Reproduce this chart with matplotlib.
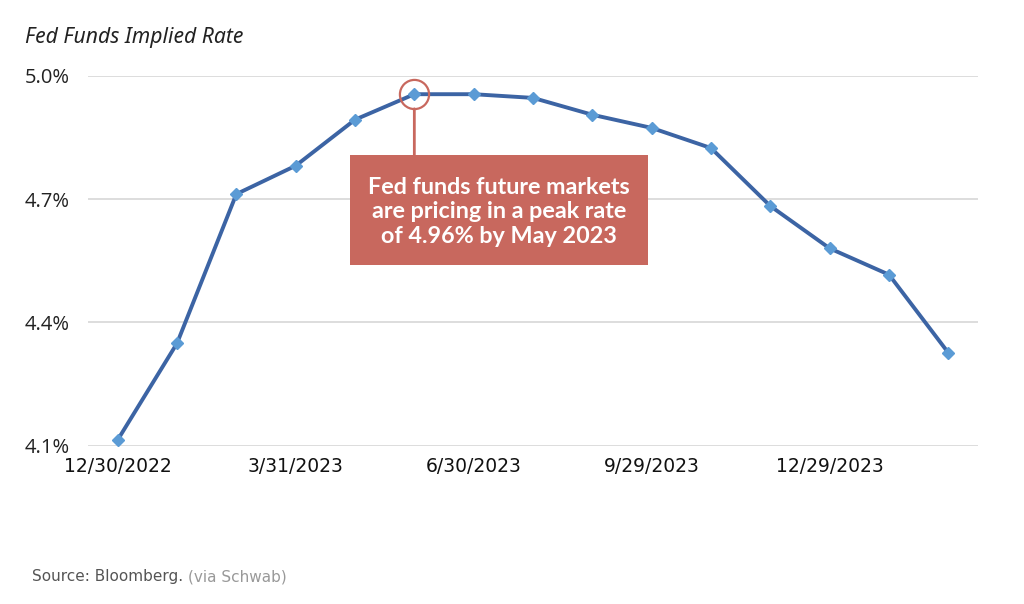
import matplotlib
matplotlib.use("Agg")
import matplotlib.pyplot as plt
from matplotlib.patches import Rectangle

dates = ["12/30/2022", "1/31/2023", "2/28/2023", "3/31/2023", "4/28/2023",
         "5/31/2023", "6/30/2023", "7/31/2023", "8/31/2023", "9/29/2023",
         "10/31/2023", "11/30/2023", "12/29/2023", "1/31/2024", "2/29/2024"]
rates = [4.114, 4.349, 4.712, 4.781, 4.893, 4.955, 4.955, 4.946, 4.905,
         4.873, 4.824, 4.683, 4.580, 4.516, 4.326]
y_ticks = [4.1, 4.4, 4.7, 5.0]
y_tick_labels = ["4.1%", "4.4%", "4.7%", "5.0%"]
peak_index = 5
annotation_text = "Fed funds future markets\nare pricing in a peak rate\nof 4.96% by May 2023"

line_color = "#3C64A4"
marker_color = "#5B9BD5"
red = "#C8685E"
narrow = ["DejaVu Sans"]

fig = plt.figure(figsize=(10.24, 6.04), dpi=100)
ax = fig.add_axes([88/1024, 1-445.7/604, 890/1024, 370/604])

x = list(range(len(dates)))
ax.plot(x, rates, color=line_color, lw=2.8, marker="D", markersize=6.5,
        markerfacecolor=marker_color, markeredgecolor=marker_color, zorder=3)

ax.set_xlim(-0.5, len(dates) - 0.5)
ax.set_ylim(4.1, 5.0)
ax.set_yticks(y_ticks)
ax.set_yticklabels(y_tick_labels, family=["Open Sans", "DejaVu Sans"], fontsize=14.5, color="#222222")
ax.set_xticks(x[::3])
ax.set_xticklabels(dates[::3], family=narrow, fontsize=13.5, color="#111111")
ax.tick_params(axis="both", length=0)
ax.tick_params(axis="y", pad=13)
ax.tick_params(axis="x", pad=8)
ax.grid(axis="y", color="#DADADA", lw=1.3)
ax.set_axisbelow(True)
for s in ax.spines.values():
    s.set_visible(False)

# peak circle
ax.plot([peak_index], [rates[peak_index]], marker="o", markersize=21,
        markerfacecolor="none", markeredgecolor=red, markeredgewidth=1.6, zorder=4)

# annotation box
box_left, box_right = (350-88)/890, (648-88)/890
box_bottom, box_top = (445.7-265)/370, (445.7-155)/370
ax.add_patch(Rectangle((box_left, box_bottom), box_right-box_left, box_top-box_bottom,
                       transform=ax.transAxes, facecolor=red, edgecolor="none", zorder=5))
ax.text((box_left+box_right)/2, (box_bottom+box_top)/2 - 0.005, annotation_text,
        transform=ax.transAxes, ha="center", va="center", color="white",
        family=["Lato", "DejaVu Sans"], fontweight="bold", fontsize=16.8,
        linespacing=1.2, zorder=6)
ax.annotate("", xy=(peak_index, rates[peak_index]), xytext=(peak_index, box_top),
            textcoords=("data", "axes fraction"),
            arrowprops=dict(arrowstyle="-", color=red, lw=2, shrinkA=0, shrinkB=10.5),
            zorder=4)

fig.text(25/1024, 1-38/604, "Fed Funds Implied Rate", ha="left", va="center",
         family=["Noto Sans", "DejaVu Sans"], style="italic", fontsize=15.2, color="#222222")
t = fig.text(32/1024, 1-577/604, "Source: Bloomberg. ", ha="left", va="center",
             family=narrow, fontsize=11, color="#555555")
fig.canvas.draw()
bb = t.get_window_extent()
fig.text(bb.x1/1024, 1-577/604, "(via Schwab)", ha="left", va="center",
         family=narrow, fontsize=11, color="#999999")

fig.savefig("out.png", dpi=100)
